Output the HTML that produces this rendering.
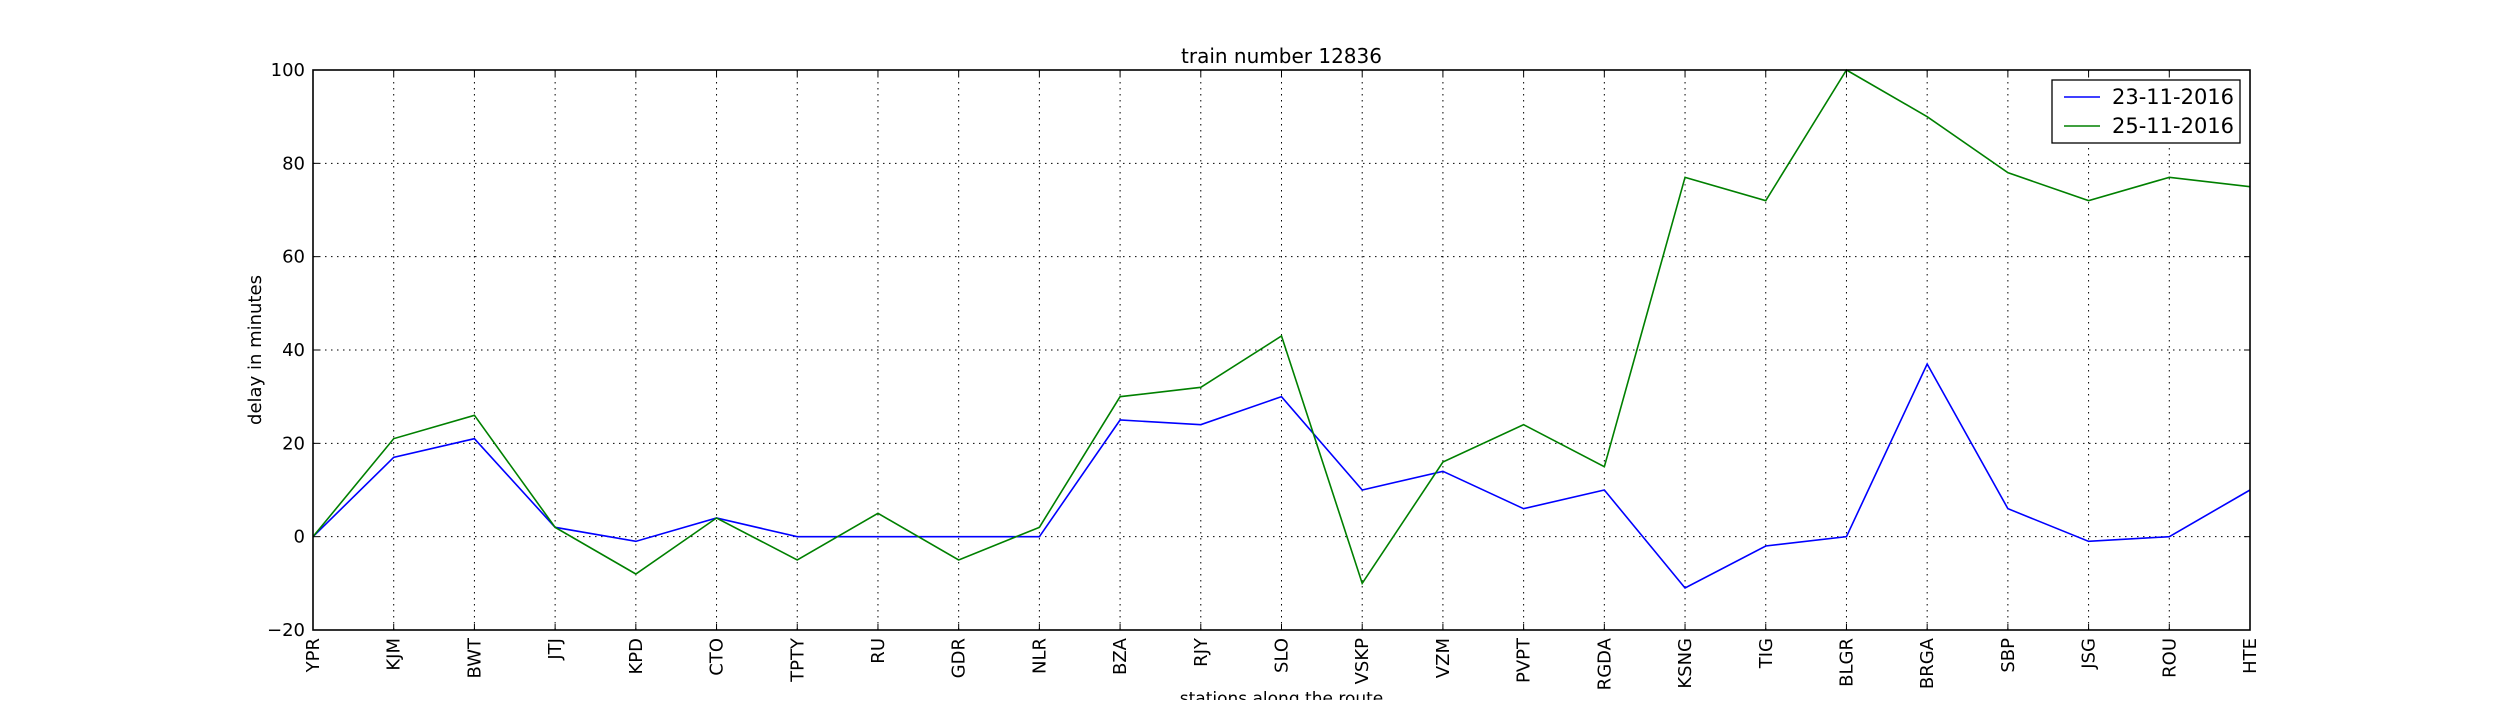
<!DOCTYPE html>
<html><head><meta charset="utf-8"><style>
body{margin:0;background:#fff}
svg text{font-family:"DejaVu Sans","Liberation Sans",sans-serif;fill:#000}
</style></head><body>
<svg id="chart" width="2500" height="700" xmlns="http://www.w3.org/2000/svg">
<rect width="2500" height="700" fill="#fff"/>
<g id="grid"></g><g id="lines"></g><g id="axes"></g>
</svg>
<script>
const stations=["YPR","KJM","BWT","JTJ","KPD","CTO","TPTY","RU","GDR","NLR","BZA","RJY","SLO","VSKP","VZM","PVPT","RGDA","KSNG","TIG","BLGR","BRGA","SBP","JSG","ROU","HTE"];
const delay23=[0,17,21,2,-1,4,0,0,0,0,25,24,30,10,14,6,10,-11,-2,0,37,6,-1,0,10];
const delay25=[0,21,26,2,-8,4,-5,5,-5,2,30,32,43,-10,16,24,15,77,72,100,90,78,72,77,75];
const yTicks=[-20,0,20,40,60,80,100];
const L=313,R=2250,T=70,B=630,yMin=-20,yMax=100;
const xs=i=>L+(R-L)*i/(stations.length-1);
const ys=v=>B-(v-yMin)/(yMax-yMin)*(B-T);
const NS="http://www.w3.org/2000/svg";
function mk(tag,attrs,parent,text){const e=document.createElementNS(NS,tag);for(const k in attrs)e.setAttribute(k,attrs[k]);if(text!==undefined)e.textContent=text;parent.appendChild(e);return e;}
const grid=document.getElementById('grid'),lines=document.getElementById('lines'),axes=document.getElementById('axes');
stations.forEach((s,i)=>{
  const x=xs(i);
  const g=mk('line',{x1:x,x2:x,y1:T,y2:B,stroke:'#000','stroke-width':1,'stroke-dasharray':'1.5,4.5'},grid);
  
  
  mk('line',{x1:x,x2:x,y1:B,y2:B-6,stroke:'#000'},axes);
  mk('line',{x1:x,x2:x,y1:T,y2:T+6,stroke:'#000'},axes);
  const t=mk('text',{x:0,y:0,'font-size':18,'text-anchor':'end',transform:`translate(${x+6},${B+8}) rotate(-90)`},axes,s);
  
  
});
yTicks.forEach(v=>{
  const y=ys(v);
  const g=mk('line',{x1:L,x2:R,y1:y,y2:y,stroke:'#000','stroke-width':1,'stroke-dasharray':'1.5,4.5'},grid);
  
  
  mk('line',{x1:L,x2:L+6,y1:y,y2:y,stroke:'#000'},axes);
  mk('line',{x1:R,x2:R-6,y1:y,y2:y,stroke:'#000'},axes);
  const t=mk('text',{x:L-8,y:y+6,'font-size':18,'text-anchor':'end'},axes,String(v).replace('-','\u2212'));
  
  
});
function series(data,color,name){
  const p=mk('polyline',{points:data.map((v,i)=>xs(i)+','+ys(v)).join(' '),fill:'none',stroke:color,'stroke-width':1.6},lines);
  
  
}
series(delay23,'#0000ff','series-23-11-2016');
series(delay25,'#008000','series-25-11-2016');
const frame=mk('rect',{x:L,y:T,width:R-L,height:B-T,fill:'none',stroke:'#000','stroke-width':1.6},axes);


const title=mk('text',{x:(L+R)/2,y:63,'font-size':20,'text-anchor':'middle'},axes,'train number 12836');


const yl=mk('text',{x:0,y:0,'font-size':18,'text-anchor':'middle',transform:`translate(261,${(T+B)/2}) rotate(-90)`},axes,'delay in minutes');


const xl=mk('text',{x:(L+R)/2,y:704,'font-size':17,'text-anchor':'middle'},axes,'stations along the route');


const lg=mk('g',{},axes);


mk('rect',{x:2052,y:80,width:188,height:63,fill:'#fff',stroke:'#000','stroke-width':1.3},lg);
[['23-11-2016','#0000ff',97],['25-11-2016','#008000',126]].forEach(([lab,c,y])=>{
  const e=mk('g',{},lg);
  
  
  mk('line',{x1:2064,x2:2100,y1:y,y2:y,stroke:c,'stroke-width':1.6},e);
  mk('text',{x:2112,y:y+7,'font-size':21},e,lab);
});
</script>
</body></html>
